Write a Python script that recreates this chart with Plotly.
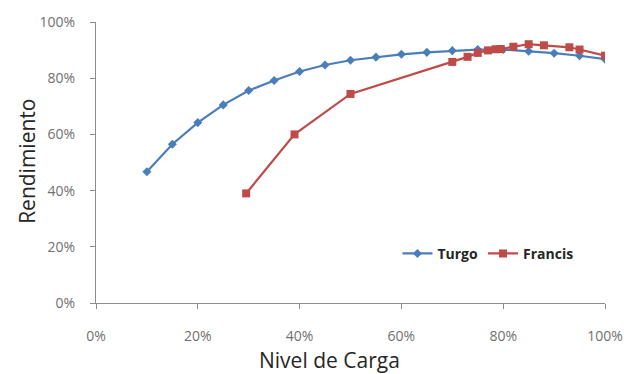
import plotly.graph_objects as go

# Efficiency curves of two turbine types versus load level
turgo_load = [0.10, 0.15, 0.20, 0.25, 0.30, 0.35, 0.40, 0.45, 0.50, 0.55,
              0.60, 0.65, 0.70, 0.75, 0.80, 0.85, 0.90, 0.95, 1.00]
turgo_eff = [0.467, 0.565, 0.642, 0.705, 0.756, 0.792, 0.824, 0.847, 0.864, 0.875,
             0.885, 0.892, 0.898, 0.902, 0.902, 0.896, 0.889, 0.880, 0.868]

francis_load = [0.295, 0.39, 0.50, 0.70, 0.73, 0.75, 0.77, 0.785, 0.795,
                0.82, 0.85, 0.88, 0.93, 0.95, 1.00]
francis_eff = [0.390, 0.600, 0.744, 0.858, 0.876, 0.890, 0.899, 0.903, 0.904,
               0.912, 0.921, 0.917, 0.910, 0.902, 0.880]

x_ticks = [0, 0.2, 0.4, 0.6, 0.8, 1.0]
y_ticks = [0, 0.2, 0.4, 0.6, 0.8, 1.0]

x_title = "Nivel de Carga"
y_title = "Rendimiento"

BLUE = "#4A7EBB"
RED = "#BE4B48"
AXIS = "#8C8C8C"
FONT = "Open Sans"

fig = go.Figure()
fig.add_trace(go.Scatter(
    x=turgo_load, y=turgo_eff, name="Turgo", mode="lines+markers",
    line=dict(color=BLUE, width=2.2),
    marker=dict(symbol="diamond", size=7, color=BLUE),
))
fig.add_trace(go.Scatter(
    x=francis_load, y=francis_eff, name="Francis", mode="lines+markers",
    line=dict(color=RED, width=2.2),
    marker=dict(symbol="square", size=8, color=RED),
))

# Axis titles placed as free annotations so they sit where the layout wants them
fig.add_annotation(
    text=x_title, xref="paper", yref="paper", x=0.458, y=-0.203,
    xanchor="center", yanchor="middle", showarrow=False,
    font=dict(family=FONT, size=21, color="#262626"),
)
fig.add_annotation(
    text=y_title, xref="paper", yref="paper", x=-0.136, y=0.505,
    xanchor="center", yanchor="middle", textangle=-90, showarrow=False,
    font=dict(family=FONT, size=21, color="#262626"),
)

fig.update_layout(
    width=627, height=374,
    margin=dict(l=96, r=22, t=22, b=71, autoexpand=False),
    paper_bgcolor="white", plot_bgcolor="white",
    font=dict(family=FONT, color="#595959"),
    showlegend=True,
    legend=dict(
        orientation="h", x=0.77, y=0.175, xanchor="center", yanchor="middle",
        font=dict(family=FONT, size=14, color="#262626", weight="bold"),
        bgcolor="rgba(0,0,0,0)", tracegroupgap=0,
    ),
    xaxis=dict(
        range=[0, 1.0], tickvals=x_ticks, tickformat=".0%", automargin=False,
        showgrid=False, zeroline=False, showline=True, linecolor=AXIS, linewidth=1.3,
        ticks="outside", ticklen=5, tickcolor=AXIS, ticklabelstandoff=15,
        tickfont=dict(size=14, color="#707070"),
    ),
    yaxis=dict(
        range=[0, 1.0], tickvals=y_ticks, tickformat=".0%", automargin=False,
        showgrid=False, zeroline=False, showline=True, linecolor=AXIS, linewidth=1.3,
        ticks="outside", ticklen=5, tickcolor=AXIS, ticklabelstandoff=12,
        tickfont=dict(size=14, color="#707070"),
    ),
)

fig.write_html("out.html")
